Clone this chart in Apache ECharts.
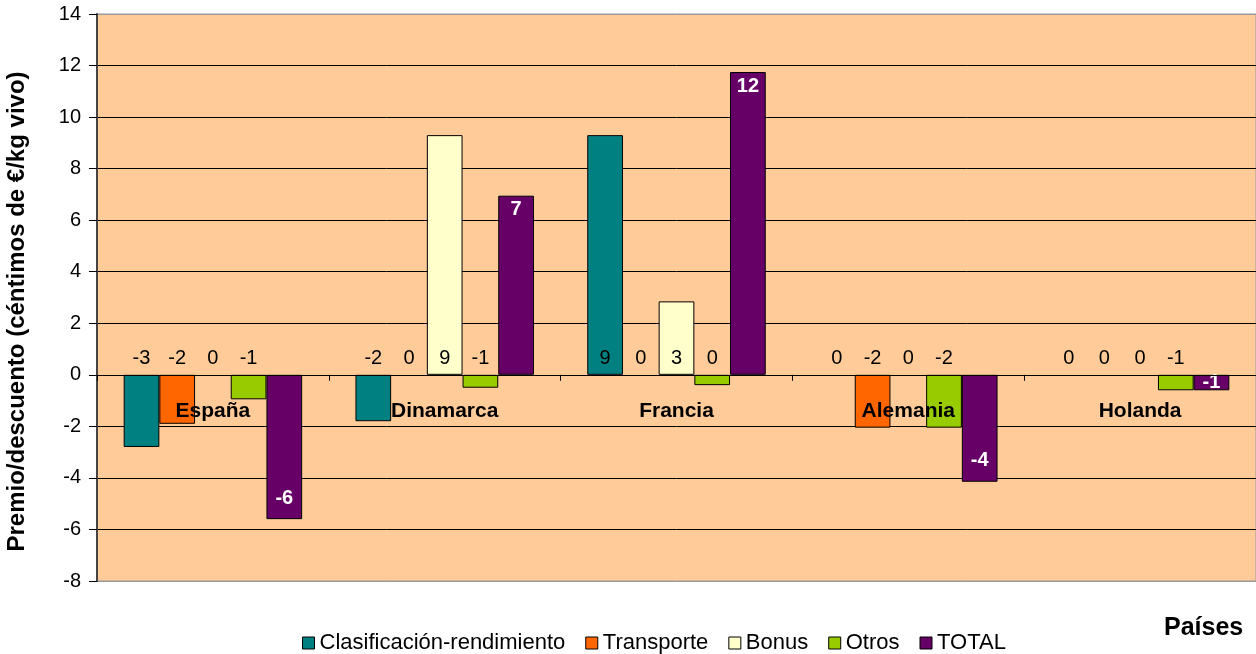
<!DOCTYPE html>
<html>
<head>
<meta charset="utf-8">
<script src="https://cdn.jsdelivr.net/npm/echarts@6/dist/echarts.min.js"></script>
<style>html,body{margin:0;padding:0;background:#fff}#c{width:1256px;height:654px}</style>
</head>
<body>
<div id="c"></div>
<script>
const categories = ['España', 'Dinamarca', 'Francia', 'Alemania', 'Holanda'];
const clasificacion = [-2.8, -1.8, 9.3, 0, 0];
const transporte = [-1.9, 0, 0, -2.05, 0];
const bonus = [0, 9.3, 2.85, 0, 0];
const otros = [-0.95, -0.5, -0.4, -2.05, -0.6];
const total = [-5.6, 6.95, 11.75, -4.15, -0.6];
const seriesNames = ['Clasificación-rendimiento', 'Transporte', 'Bonus', 'Otros', 'TOTAL'];
const seriesColors = ['#008080', '#FF6600', '#FFFFCC', '#99CC00', '#660066'];
const yTicks = { min: -8, max: 14, interval: 2 };

const FONT = 'Liberation Sans, Arial, sans-serif';
const GRID = { left: 97, right: 0, top: 14, bottom: 73 };
const H = 654;
const plotH = H - GRID.top - GRID.bottom;
const zeroFromBottom = plotH * (0 - yTicks.min) / (yTicks.max - yTicks.min);

function fmt(p) {
  const v = p.value;
  const r = Math.sign(v) * Math.round(Math.abs(v));
  return r === 0 ? '0' : String(r);
}
function zeroStyle(v) {
  return v === 0 ? { itemStyle: { borderWidth: 0 } } : {};
}
function plainData(arr) {
  return arr.map(v => Object.assign({
    value: v,
    label: { position: v > 0 ? 'insideBottom' : 'top', distance: 6 }
  }, zeroStyle(v)));
}
function totalData(arr) {
  return arr.map(v => {
    let label;
    if (Math.abs(v) < 1.5) label = { position: 'inside' };
    else if (v > 0) label = { position: 'insideTop', distance: 4 };
    else label = { position: 'insideBottom', distance: 11 };
    return Object.assign({ value: v, label: label }, zeroStyle(v));
  });
}
const allData = [clasificacion, transporte, bonus, otros, total];
const series = allData.map((arr, i) => {
  const isTotal = i === 4;
  return {
    name: seriesNames[i],
    type: 'bar',
    z: 2,
    barGap: '0%',
    barCategoryGap: '23%',
    itemStyle: { color: seriesColors[i], borderColor: '#000', borderWidth: 1 },
    label: isTotal ? {
      show: true, formatter: fmt, color: '#fff', fontWeight: 'bold', fontSize: 20, fontFamily: FONT
    } : {
      show: true, formatter: fmt, color: '#000', fontSize: 20, fontFamily: FONT
    },
    data: isTotal ? totalData(arr) : plainData(arr)
  };
});

const splitColors = [];
for (let v = yTicks.min; v <= yTicks.max; v += yTicks.interval) {
  splitColors.push((v === yTicks.min || v === yTicks.max) ? '#999' : '#000');
}

const chart = echarts.init(document.getElementById('c'), null, { renderer: 'canvas' });
chart.setOption({
  animation: false,
  backgroundColor: '#fff',
  textStyle: { fontFamily: FONT },
  title: {
    text: 'Países', left: 1159, top: 611,
    textStyle: { fontSize: 25, fontWeight: 'bold', color: '#000', fontFamily: FONT }
  },
  legend: {
    top: 627, left: 297,
    itemWidth: 12, itemHeight: 12, itemGap: 20,
    icon: 'rect',
    textStyle: { fontSize: 22, color: '#000', fontFamily: FONT },
    data: seriesNames.map((n, i) => ({ name: n, itemStyle: { color: seriesColors[i], borderColor: '#000', borderWidth: 1 } }))
  },
  grid: {
    left: GRID.left, right: GRID.right, top: GRID.top, bottom: GRID.bottom,
    outerBoundsMode: 'none', containLabel: false,
    show: true, backgroundColor: '#FFCC99', borderColor: '#999', borderWidth: 1
  },
  xAxis: {
    type: 'category',
    data: categories,
    z: 10,
    offset: -zeroFromBottom,
    axisLine: { onZero: false, lineStyle: { color: '#000', width: 1 } },
    axisTick: { show: true, length: 6, lineStyle: { color: '#000' } },
    axisLabel: { margin: 26, fontSize: 21, fontWeight: 'bold', color: '#000', fontFamily: FONT },
    splitLine: { show: false }
  },
  yAxis: {
    type: 'value',
    min: yTicks.min, max: yTicks.max, interval: yTicks.interval,
    name: 'Premio/descuento (céntimos de €/kg vivo)',
    nameLocation: 'middle', nameGap: 68,
    nameTextStyle: { fontSize: 24, fontWeight: 'bold', color: '#000', fontFamily: FONT, padding: [0, 28, 0, 0] },
    axisLine: { show: true, lineStyle: { color: '#444', width: 2 } },
    axisTick: { show: true, length: 8, lineStyle: { color: '#000' } },
    axisLabel: { margin: 16, fontSize: 20, color: '#000', fontFamily: FONT },
    splitLine: { show: true, lineStyle: { color: splitColors, width: 1 } }
  },
  series: series
});
</script>
</body>
</html>
